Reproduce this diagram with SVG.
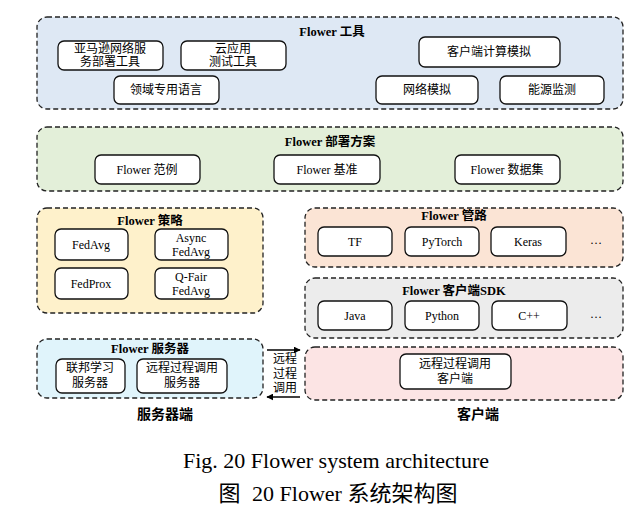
<svg xmlns="http://www.w3.org/2000/svg" width="642" height="516" viewBox="0 0 642 516">
<defs>
<marker id="ah" viewBox="0 0 10 10" refX="9" refY="5" markerWidth="7" markerHeight="7" orient="auto" markerUnits="userSpaceOnUse">
<path d="M0,0 L10,5 L0,10 z" fill="#000"/>
</marker>
<style>
text{font-family:"Liberation Serif","Noto Sans CJK SC",serif;fill:#000;text-anchor:middle;dominant-baseline:central}
.grp{stroke:#222;stroke-width:1.3;stroke-dasharray:5,3}
.box{fill:#fff;stroke:#111;stroke-width:1.3}
.t{font-size:12.5px;font-weight:bold}
.n{font-size:12px}
.lbl{font-size:14px;font-weight:bold}
.cap{font-size:22px}
</style>
</defs>
<rect width="642" height="516" fill="#fff"/>

<g id="tools">
<rect class="grp" x="37" y="17" width="586" height="92" rx="10" fill="#dee8f4"/>
<text class="t" x="332" y="32">Flower 工具</text>
<g id="aws"><rect class="box" x="58" y="41" width="105" height="29" rx="6"/><text class="n" x="110" y="49">亚马逊网络服</text><text class="n" x="110" y="62">务部署工具</text></g>
<g id="cloud"><rect class="box" x="181" y="41" width="105" height="29" rx="6"/><text class="n" x="233" y="49">云应用</text><text class="n" x="233" y="62">测试工具</text></g>
<g id="dsl"><rect class="box" x="114" y="76" width="105" height="28" rx="6"/><text class="n" x="166" y="90">领域专用语言</text></g>
<g id="clientsim"><rect class="box" x="419" y="37" width="141" height="30" rx="6"/><text class="n" x="489" y="52">客户端计算模拟</text></g>
<g id="netsim"><rect class="box" x="376" y="76" width="102" height="28" rx="6"/><text class="n" x="427" y="90">网络模拟</text></g>
<g id="energy"><rect class="box" x="500" y="76" width="104" height="28" rx="6"/><text class="n" x="552" y="90">能源监测</text></g>
</g>

<g id="deploy">
<rect class="grp" x="37" y="127" width="586" height="64" rx="10" fill="#e3efd9"/>
<text class="t" x="330" y="142">Flower 部署方案</text>
<g id="examples"><rect class="box" x="95" y="155" width="105" height="29" rx="6"/><text class="n" x="147" y="170">Flower 范例</text></g>
<g id="baselines"><rect class="box" x="274" y="155" width="106" height="29" rx="6"/><text class="n" x="327" y="170">Flower 基准</text></g>
<g id="datasets"><rect class="box" x="455" y="155" width="105" height="29" rx="6"/><text class="n" x="507" y="170">Flower 数据集</text></g>
</g>

<g id="strategies">
<rect class="grp" x="37" y="208" width="226" height="105" rx="10" fill="#fef1cb"/>
<text class="t" x="150" y="221">Flower 策略</text>
<g id="fedavg"><rect class="box" x="55" y="229" width="73" height="31" rx="6"/><text class="n" x="91" y="245">FedAvg</text></g>
<g id="asyncfedavg"><rect class="box" x="155" y="229" width="73" height="31" rx="6"/><text class="n" x="191" y="238">Async</text><text class="n" x="191" y="252">FedAvg</text></g>
<g id="fedprox"><rect class="box" x="55" y="268" width="73" height="31" rx="6"/><text class="n" x="91" y="284">FedProx</text></g>
<g id="qfair"><rect class="box" x="155" y="268" width="73" height="31" rx="6"/><text class="n" x="191" y="277">Q-Fair</text><text class="n" x="191" y="291">FedAvg</text></g>
</g>

<g id="pipelines">
<rect class="grp" x="305" y="208" width="318" height="59" rx="10" fill="#fbe4d5"/>
<text class="t" x="454" y="216">Flower 管路</text>
<g id="tf"><rect class="box" x="318" y="227" width="74" height="29" rx="6"/><text class="n" x="355" y="242">TF</text></g>
<g id="pytorch"><rect class="box" x="405" y="227" width="74" height="29" rx="6"/><text class="n" x="442" y="242">PyTorch</text></g>
<g id="keras"><rect class="box" x="491" y="227" width="75" height="29" rx="6"/><text class="n" x="528" y="242">Keras</text></g>
<text class="n" x="596" y="240">…</text>
</g>

<g id="sdk">
<rect class="grp" x="305" y="278" width="318" height="60" rx="10" fill="#ececec"/>
<text class="t" x="454" y="291">Flower 客户端SDK</text>
<g id="java"><rect class="box" x="318" y="301" width="74" height="29" rx="6"/><text class="n" x="355" y="316">Java</text></g>
<g id="python"><rect class="box" x="405" y="301" width="74" height="29" rx="6"/><text class="n" x="442" y="316">Python</text></g>
<g id="cpp"><rect class="box" x="492" y="301" width="75" height="29" rx="6"/><text class="n" x="529" y="316">C++</text></g>
<text class="n" x="596" y="314">…</text>
</g>

<g id="server">
<rect class="grp" x="37" y="339" width="226" height="59" rx="10" fill="#e0f4fb"/>
<text class="t" x="150" y="349">Flower 服务器</text>
<g id="flserver"><rect class="box" x="56" y="359" width="69" height="34" rx="6"/><text class="n" x="90" y="368">联邦学习</text><text class="n" x="90" y="383">服务器</text></g>
<g id="rpcserver"><rect class="box" x="137" y="359" width="90" height="34" rx="6"/><text class="n" x="182" y="368">远程过程调用</text><text class="n" x="182" y="383">服务器</text></g>
</g>

<g id="client">
<rect class="grp" x="305" y="347" width="318" height="53" rx="10" fill="#fce4e4"/>
<g id="rpcclient"><rect class="box" x="400" y="354" width="111" height="35" rx="6"/><text class="n" x="455" y="364">远程过程调用</text><text class="n" x="455" y="379">客户端</text></g>
</g>

<g id="connectors">
<line x1="267" y1="350" x2="300" y2="350" stroke="#000" stroke-width="1.5" marker-end="url(#ah)"/>
<line x1="300" y1="397" x2="267" y2="397" stroke="#000" stroke-width="1.5" marker-end="url(#ah)"/>
<text class="n" x="285" y="359">远程</text>
<text class="n" x="285" y="374">过程</text>
<text class="n" x="285" y="388">调用</text>
</g>

<text class="lbl" x="165" y="414">服务器端</text>
<text class="lbl" x="478" y="414">客户端</text>

<text class="cap" x="336" y="460">Fig. 20 Flower system architecture</text>
<text class="cap" x="338" y="493">图 <tspan dx="6">20 Flower 系统架构图</tspan></text>
</svg>
